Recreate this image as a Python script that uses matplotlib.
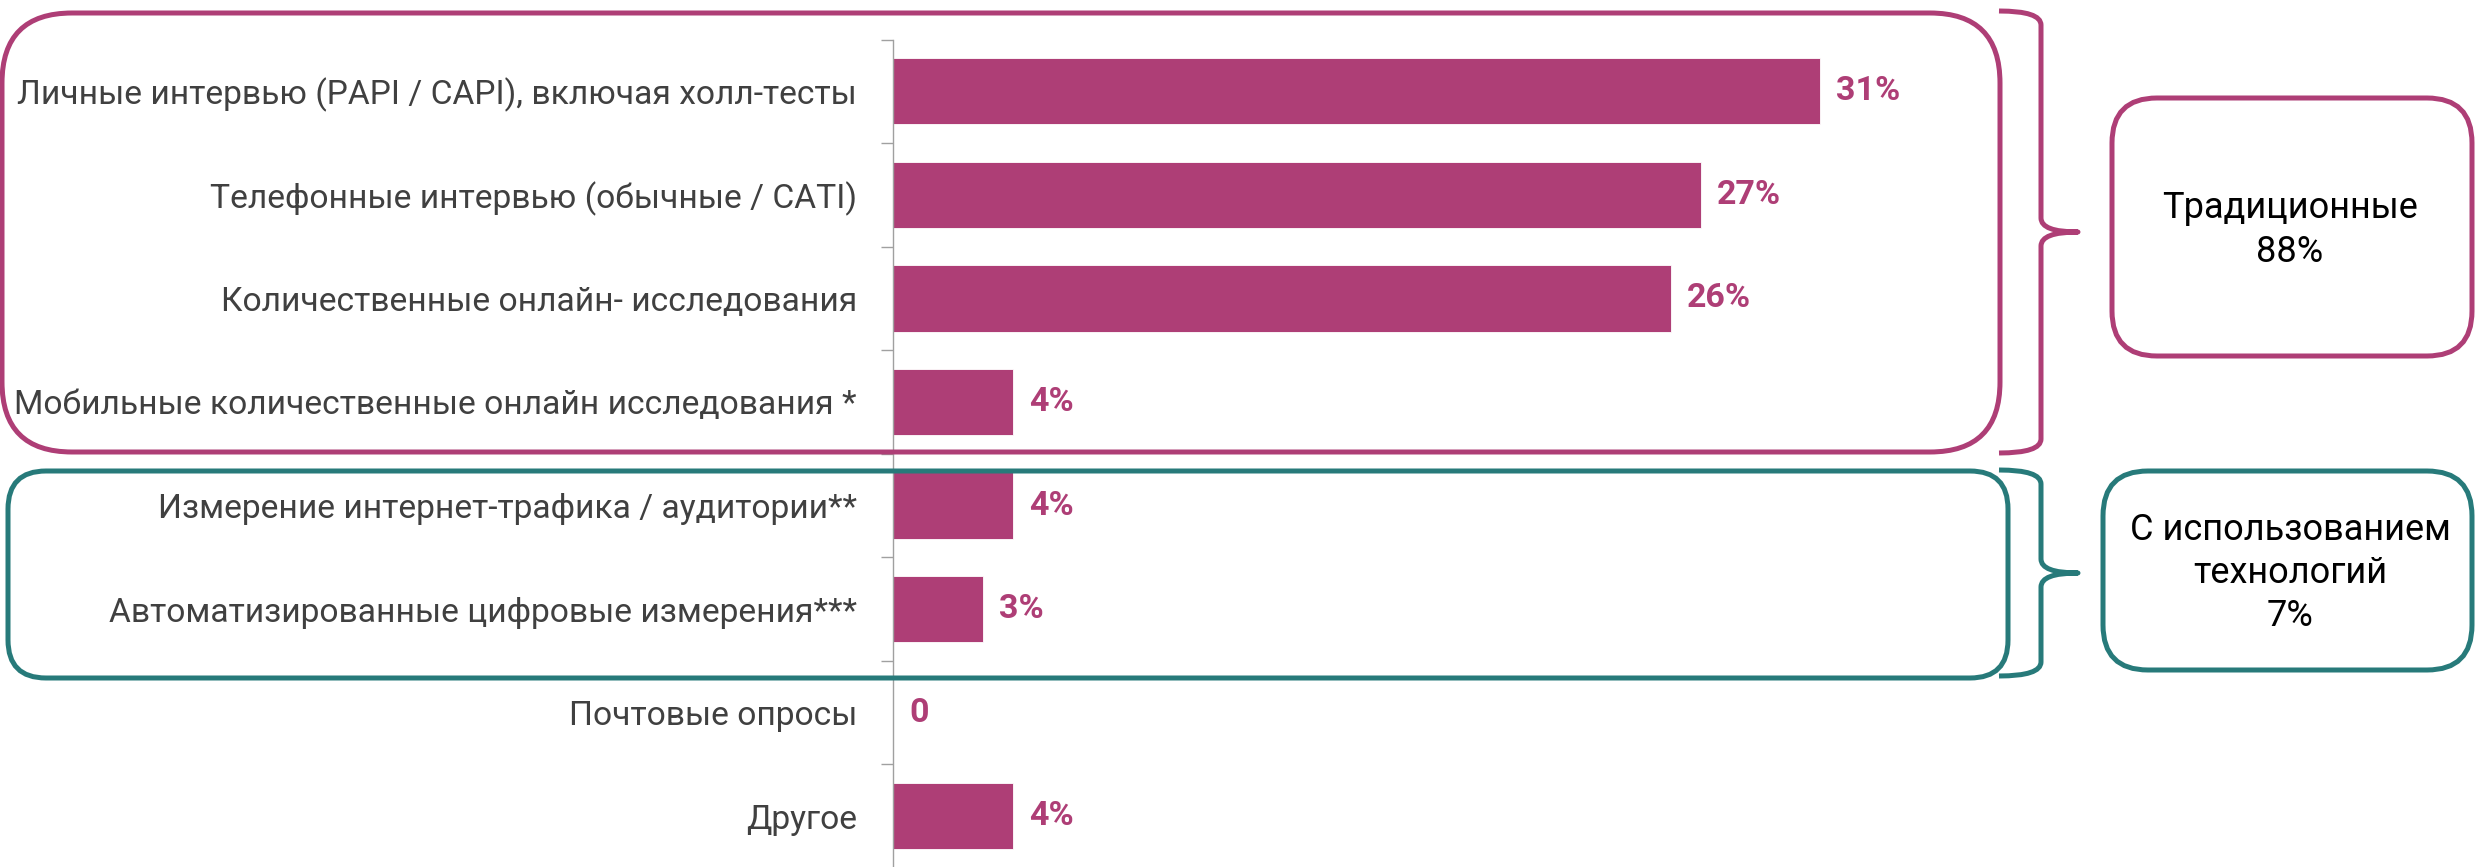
import numpy as np
import matplotlib
matplotlib.use("Agg")
import matplotlib.pyplot as plt
from matplotlib.patches import FancyBboxPatch, PathPatch
from matplotlib.path import Path

plt.rcParams['font.family'] = ['Roboto', 'DejaVu Sans']

categories = [
    "Личные интервью (PAPI / CAPI), включая холл-тесты",
    "Телефонные интервью (обычные / CATI)",
    "Количественные онлайн- исследования",
    "Мобильные количественные онлайн исследования *",
    "Измерение интернет-трафика / аудитории**",
    "Автоматизированные цифровые измерения***",
    "Почтовые опросы",
    "Другое",
]
values = [31, 27, 26, 4, 4, 3, 0, 4]
value_labels = ["31%", "27%", "26%", "4%", "4%", "3%", "0", "4%"]
group_labels = ["Традиционные\n88%", "С использованием\nтехнологий\n7%"]

BAR = "#AE3E76"
MAG = "#AE3E76"
TEAL = "#277A7A"
TXT = "#404040"

W, H = 2475, 867
fig = plt.figure(figsize=(W / 100, H / 100), dpi=100)

ax = fig.add_axes([893 / W, (H - 868) / H, (1940 - 893) / W, (868 - 39.5) / H])
y = np.arange(len(categories))
ax.barh(y, values, height=0.64, color=BAR, edgecolor="white", linewidth=0.6)
ax.set_xlim(0, 35)
ax.set_ylim(len(categories) - 0.5, -0.5)
ax.set_yticks(np.arange(-0.5, len(categories), 1))
ax.set_yticklabels([])
ax.set_yticks(y, minor=True)
ax.set_yticklabels(categories, minor=True, fontsize=24.2, color=TXT)
ax.tick_params(axis="y", which="major", length=8.6, color="#A0A0A0", width=1)
ax.tick_params(axis="y", which="minor", length=0, pad=26)
ax.set_xticks([])
for s in ["top", "right", "bottom"]:
    ax.spines[s].set_visible(False)
ax.spines["left"].set_color("#A0A0A0")
ax.spines["left"].set_linewidth(1)
ax.patch.set_alpha(0)

for yi, v, lab in zip(y, values, value_labels):
    ax.annotate(lab, xy=(v, yi), xytext=(11.5, 0), textcoords="offset points",
                ha="left", va="center", fontsize=24.5, fontweight="bold", color=MAG)

ov = fig.add_axes([0, 0, 1, 1])
ov.set_xlim(0, W)
ov.set_ylim(H, 0)
ov.axis("off")
ov.patch.set_alpha(0)


def rbox(x0, y0, x1, y1, r, color):
    p = FancyBboxPatch((x0, y0), x1 - x0, y1 - y0,
                       boxstyle=f"round,pad=0,rounding_size={r}",
                       fill=False, edgecolor=color, linewidth=3.6)
    ov.add_patch(p)


def brace(x0, x1, xt, yt, yb, ym, c, color):
    verts = [
        (x0, yt), (x1, yt), (x1, yt + c),
        (x1, ym - c), (x1, ym), (xt, ym),
        (x1, ym), (x1, ym + c),
        (x1, yb - c), (x1, yb), (x0, yb),
    ]
    codes = [Path.MOVETO, Path.CURVE3, Path.CURVE3,
             Path.LINETO, Path.CURVE3, Path.CURVE3,
             Path.CURVE3, Path.CURVE3,
             Path.LINETO, Path.CURVE3, Path.CURVE3]
    ov.add_patch(PathPatch(Path(verts, codes), fill=False, edgecolor=color,
                           linewidth=3.6, capstyle="butt", joinstyle="round"))


rbox(2, 13, 2000, 452, 70, MAG)
rbox(8, 471, 2008, 678, 38, TEAL)
brace(1999, 2041, 2078, 11, 453, 232, 14, MAG)
brace(1999, 2041, 2078, 470, 676, 573, 14, TEAL)
rbox(2112, 98, 2472, 356, 45, MAG)
rbox(2103, 471, 2472, 670, 45, TEAL)

ov.text(2290, 230, group_labels[0], ha="center", va="center", fontsize=26,
        color="black", linespacing=1.25)
ov.text(2290, 573, group_labels[1], ha="center", va="center", fontsize=26,
        color="black", linespacing=1.25)

fig.savefig("out.png", dpi=100)
